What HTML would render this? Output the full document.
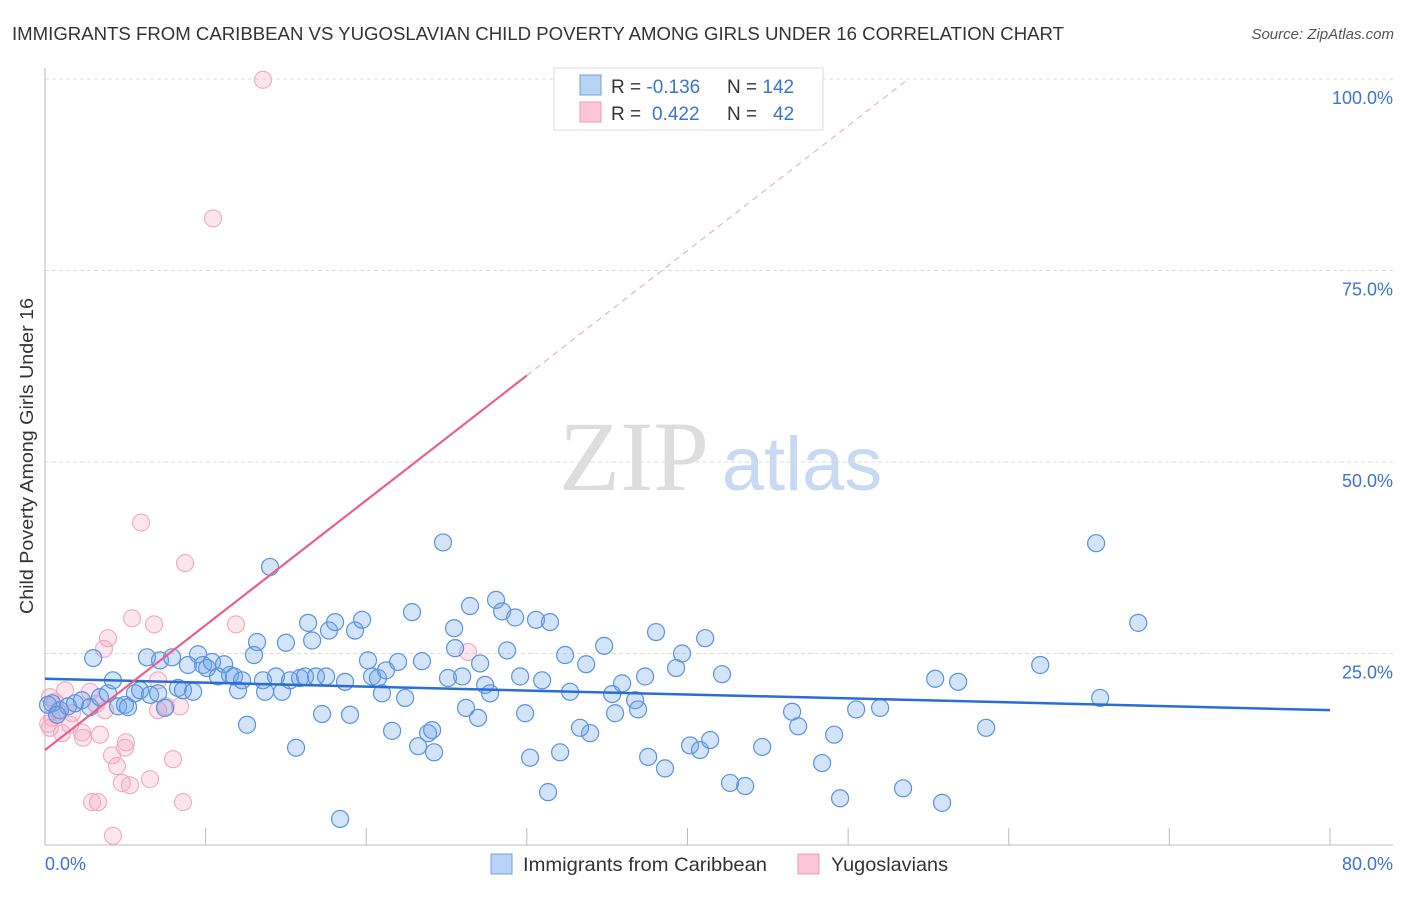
<!DOCTYPE html>
<html><head><meta charset="utf-8"><style>
body{margin:0;background:#fff;font-family:"Liberation Sans",sans-serif;}
svg text{font-family:"Liberation Sans",sans-serif;}
</style></head><body>
<svg id="chart" width="1406" height="892" xmlns="http://www.w3.org/2000/svg">
<text x="12" y="40" font-size="18" fill="#333" textLength="1052" lengthAdjust="spacingAndGlyphs">IMMIGRANTS FROM CARIBBEAN VS YUGOSLAVIAN CHILD POVERTY AMONG GIRLS UNDER 16 CORRELATION CHART</text>
<text x="1394" y="39" font-size="15" fill="#555" font-style="italic" text-anchor="end">Source: ZipAtlas.com</text>
<text transform="translate(33,456) rotate(-90)" font-size="18" fill="#333" text-anchor="middle" textLength="316" lengthAdjust="spacingAndGlyphs">Child Poverty Among Girls Under 16</text>
<g>
<text x="634" y="490" font-size="100" fill="#ddd" text-anchor="middle" style="font-family:'Liberation Serif',serif">ZIP</text>
<text x="802" y="490" font-size="76" fill="#c8daf2" text-anchor="middle">atlas</text>
</g>
<g id="grid"></g><g id="axes"></g><g id="marks"></g><g id="lines"></g>
<g>
<rect x="554" y="68" width="269" height="62" fill="#fff" stroke="#ddd"/>
<rect x="580" y="75" width="21" height="20" fill="#b8d3f5" stroke="#6fa0e0"/>
<rect x="580" y="102" width="21" height="20" fill="#fbc6d5" stroke="#f09ab5"/>
<text x="611" y="93" font-size="19" fill="#333">R = <tspan fill="#3a73d0">-0.136</tspan></text>
<text x="727" y="93" font-size="19" fill="#333">N = <tspan fill="#3a73d0">142</tspan></text>
<text x="611" y="120" font-size="19" fill="#333">R = </text>
<text x="652" y="120" font-size="19" fill="#3a73d0">0.422</text>
<text x="727" y="120" font-size="19" fill="#333">N = </text>
<text x="773" y="120" font-size="19" fill="#3a73d0">42</text>
</g>
<g>
<rect x="491" y="854" width="21" height="20" fill="#b8d3f5" stroke="#6fa0e0"/>
<text x="523" y="871" font-size="19.5" fill="#333" textLength="244" lengthAdjust="spacingAndGlyphs">Immigrants from Caribbean</text>
<rect x="798" y="854" width="21" height="20" fill="#fbc6d5" stroke="#f09ab5"/>
<text x="831" y="871" font-size="19.5" fill="#333" textLength="117" lengthAdjust="spacingAndGlyphs">Yugoslavians</text>
</g>
</svg>
<script>
const blueX=[0.44,0.93,1.43,1.87,2.3,2.8,3.0,3.42,3.92,4.23,4.55,4.98,5.17,5.6,5.92,6.35,6.54,7.04,7.16,7.47,7.91,8.28,8.59,8.9,9.22,9.53,9.84,10.09,10.4,10.77,11.15,11.52,11.77,12.02,12.27,12.58,13.01,13.2,13.57,13.7,14.01,14.38,14.76,15.0,15.26,15.63,15.88,16.19,16.38,16.63,16.87,17.25,17.5,17.68,18.06,18.68,18.99,19.3,19.74,20.11,20.36,20.73,20.98,21.23,21.61,21.98,22.42,22.85,23.23,23.47,23.85,24.1,24.22,24.78,25.09,25.47,25.53,25.97,26.21,26.46,26.96,27.09,27.4,27.71,28.08,28.46,28.77,29.27,29.58,29.89,30.2,30.57,30.95,31.32,31.44,32.07,32.38,32.69,33.31,33.69,33.94,34.81,35.31,35.49,35.93,36.74,36.92,37.36,37.55,38.04,38.6,39.29,39.66,40.16,40.78,41.1,41.41,42.15,42.65,43.59,44.65,46.51,46.89,48.38,49.13,49.5,50.5,51.99,53.42,55.42,55.85,56.85,58.59,61.96,65.44,65.69,68.06,18.37,0.19,0.75];
const blueY=[18.5,17.6,18.1,18.5,18.9,18.0,24.4,19.3,19.8,21.5,18.1,18.3,18.0,19.8,20.2,24.5,19.6,19.8,24.1,17.9,24.5,20.5,20.2,23.5,20.0,24.9,23.5,23.1,23.9,22.0,23.6,22.2,22.0,20.2,21.5,15.7,24.8,26.5,21.5,20.0,36.3,22.0,20.0,26.4,21.5,12.7,21.8,22.0,29.0,26.7,22.0,17.1,22.0,28.0,29.1,21.3,17.0,28.0,29.4,24.1,22.0,21.8,19.8,22.8,14.9,23.9,19.2,30.4,12.9,24.0,14.6,15.0,12.1,39.5,21.8,28.3,25.7,22.0,17.9,31.2,16.6,23.7,20.9,19.8,32.0,30.5,25.4,29.7,22.0,17.2,11.4,29.4,21.5,6.9,29.1,12.1,24.8,20.0,15.3,23.6,14.6,26.0,19.7,17.2,21.1,18.9,17.7,22.0,11.5,27.8,10.0,23.1,25.0,13.0,12.4,27.0,13.7,22.3,8.1,7.7,12.8,17.4,15.5,10.7,14.4,6.1,17.7,17.9,7.4,21.7,5.5,21.3,15.3,23.5,39.4,19.2,29.0,3.4,18.3,17.0];
const pinkX=[13.57,10.46,5.98,8.72,5.42,6.79,11.89,3.92,3.67,26.34,7.04,1.25,2.8,0.31,0.62,0.81,1.68,3.18,7.53,8.41,7.04,0.44,1.06,2.3,3.42,2.37,4.17,4.98,5.04,4.48,7.97,4.79,5.29,6.54,2.93,3.3,8.59,4.23,0.31,0.2,1.56,3.74];
const pinkY=[99.9,81.8,42.1,36.8,29.6,28.8,28.8,27.0,25.6,25.2,21.5,20.2,20.0,19.3,18.7,17.4,17.2,18.4,18.1,18.1,17.6,16.6,14.6,14.7,14.4,14.0,11.7,12.7,13.4,10.3,11.2,8.1,7.8,8.6,5.6,5.6,5.6,1.2,15.3,15.8,15.7,17.6];
const blueTrend=[21.7,17.6]; // y at x=0 and x=80
const pinkTrend=[12.4,1.63]; // intercept, slope
const yTicks=[25,50,75,100];
const xTickVals=[0,10,20,30,40,50,60,70,80];
const NS='http://www.w3.org/2000/svg';
const sx=v=>45+v*(1285/80), sy=v=>845-v*(766/100);
function mk(p,t,a){const e=document.createElementNS(NS,t);for(const k in a)e.setAttribute(k,a[k]);p.appendChild(e);return e;}
const grid=document.getElementById('grid'),axes=document.getElementById('axes'),marks=document.getElementById('marks'),lines=document.getElementById('lines');
yTicks.forEach(v=>{
 const l=mk(grid,'line',{x1:45,x2:1393,y1:sy(v),y2:sy(v),stroke:'#ddd','stroke-dasharray':'4,3'});
 
 
 const t=mk(axes,'text',{x:1393,y:sy(v)+25,'font-size':18,fill:'#3a73d0','text-anchor':'end'});t.textContent=v.toFixed(1)+'%';
 
 
});
mk(axes,'line',{x1:45,x2:45,y1:68,y2:845,stroke:'#bbb'});
mk(axes,'line',{x1:45,x2:1393,y1:845,y2:845,stroke:'#bbb'});
xTickVals.forEach(v=>{if(v>0){const l=mk(axes,'line',{x1:sx(v),x2:sx(v),y1:828,y2:845,stroke:'#bbb'});
 
 }});
let t0=mk(axes,'text',{x:45,y:870,'font-size':18,fill:'#3a73d0'});t0.textContent='0.0%';


let t1=mk(axes,'text',{x:1393,y:870,'font-size':18,fill:'#3a73d0','text-anchor':'end'});t1.textContent='80.0%';


pinkX.forEach((x,i)=>{const c=mk(marks,'circle',{cx:sx(x),cy:sy(pinkY[i]),r:8.5,fill:'rgba(245,170,195,0.3)',stroke:'#f0a8bf','stroke-width':1.1});
 
 });
blueX.forEach((x,i)=>{const c=mk(marks,'circle',{cx:sx(x),cy:sy(blueY[i]),r:8.5,fill:'rgba(110,165,235,0.3)',stroke:'#5a92e0','stroke-width':1.2});
 
 });
let bl=mk(lines,'line',{x1:sx(0),y1:sy(blueTrend[0]),x2:sx(80),y2:sy(blueTrend[1]),stroke:'#2a6dd6','stroke-width':2.5});


const pe=30, xEnd=(100-pinkTrend[0])/pinkTrend[1];
let pl=mk(lines,'line',{x1:sx(0),y1:sy(pinkTrend[0]),x2:sx(pe),y2:sy(pinkTrend[0]+pinkTrend[1]*pe),stroke:'#e8608e','stroke-width':2.2});


let pd=mk(lines,'line',{x1:sx(pe),y1:sy(pinkTrend[0]+pinkTrend[1]*pe),x2:sx(xEnd),y2:sy(100),stroke:'#eea0b8','stroke-width':1,'stroke-dasharray':'6,5'});


</script>
</body></html>
